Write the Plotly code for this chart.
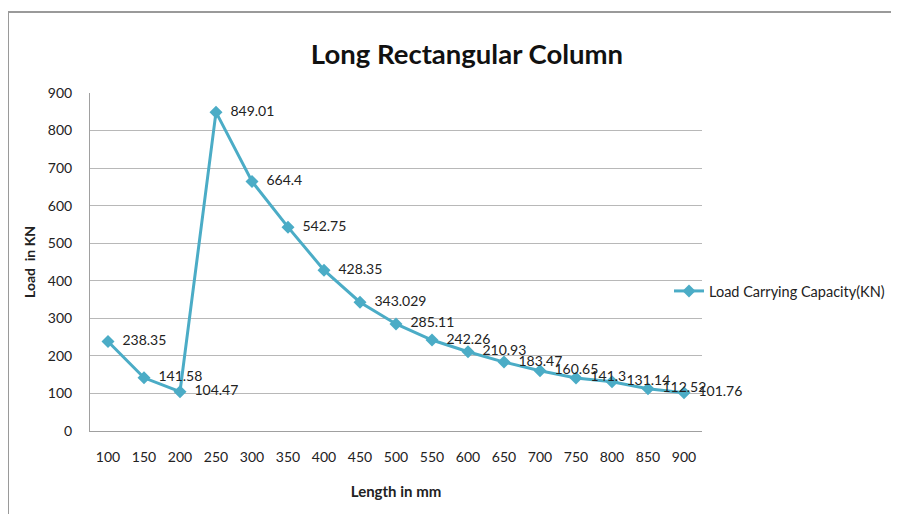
import plotly.graph_objects as go

lengths = ["100", "150", "200", "250", "300", "350", "400", "450", "500",
           "550", "600", "650", "700", "750", "800", "850", "900"]
loads = [238.35, 141.58, 104.47, 849.01, 664.4, 542.75, 428.35, 343.029, 285.11,
         242.26, 210.93, 183.47, 160.65, 141.3, 131.14, 112.52, 101.76]
label_text = ["238.35", "141.58", "104.47", "849.01", "664.4", "542.75", "428.35",
              "343.029", "285.11", "242.26", "210.93", "183.47", "160.65", "141.3",
              "131.14", "112.52", "101.76"]
y_ticks = [0, 100, 200, 300, 400, 500, 600, 700, 800, 900]

FONT = "Lato, Open Sans, sans-serif"
COLOR = "#4BACC6"

fig = go.Figure()
fig.add_trace(go.Scatter(
    x=lengths, y=loads, mode="lines+markers+text",
    name="Load Carrying Capacity(KN)",
    text=["  " + t for t in label_text], textposition="middle right",
    textfont=dict(family=FONT, size=14, color="#222222"),
    line=dict(color=COLOR, width=3),
    marker=dict(symbol="diamond", size=10, color=COLOR),
    cliponaxis=False,
))

OFF = 8  # page body offset
W, H = 899, 514
L, T = 90 - OFF, 93 - OFF
pw, ph = 612, 338
R, B = W - L - pw, H - T - ph

fig.update_layout(
    width=W, height=H,
    margin=dict(l=L, r=R, t=T, b=B, autoexpand=False),
    paper_bgcolor="white", plot_bgcolor="white",
    font=dict(family=FONT, size=14, color="#222222"),
    title=dict(text="<b>Long Rectangular Column</b>", x=(467 - OFF) / W, xanchor="center",
               y=1 - (54 - OFF) / H, yanchor="middle",
               font=dict(family=FONT, size=27.5, color="#111111")),
    xaxis=dict(type="category", showgrid=False, showline=True, linecolor="#A0A0A0",
               linewidth=1, ticks="", tickfont=dict(size=14), ticklabelstandoff=13,
               range=[-0.5, len(lengths) - 0.5],
               title=dict(text="<b>Length in mm</b>", font=dict(size=15), standoff=22)),
    yaxis=dict(range=[0, 900], tickvals=y_ticks, showgrid=True, gridcolor="#B8B8B8",
               gridwidth=1, showline=True, linecolor="#A0A0A0", linewidth=1, ticks="",
               zeroline=False, tickfont=dict(size=14), ticklabelstandoff=14,
               title=dict(text="<b>Load  in KN</b>", font=dict(size=14), standoff=8)),
    legend=dict(x=(669 - 90) / pw, y=(431 - 291) / ph, xanchor="left", yanchor="middle",
                font=dict(size=14.5), bgcolor="rgba(0,0,0,0)", itemwidth=30),
    showlegend=True,
)

fig.add_shape(type="rect", xref="paper", yref="paper",
              x0=(8 - 90) / pw, x1=(W + 40 - 90) / pw,
              y0=-(B + 40) / ph, y1=1 + (93 - 12) / ph,
              line=dict(color="#9A9A9A", width=2), layer="below")

fig.write_html("out.html")
